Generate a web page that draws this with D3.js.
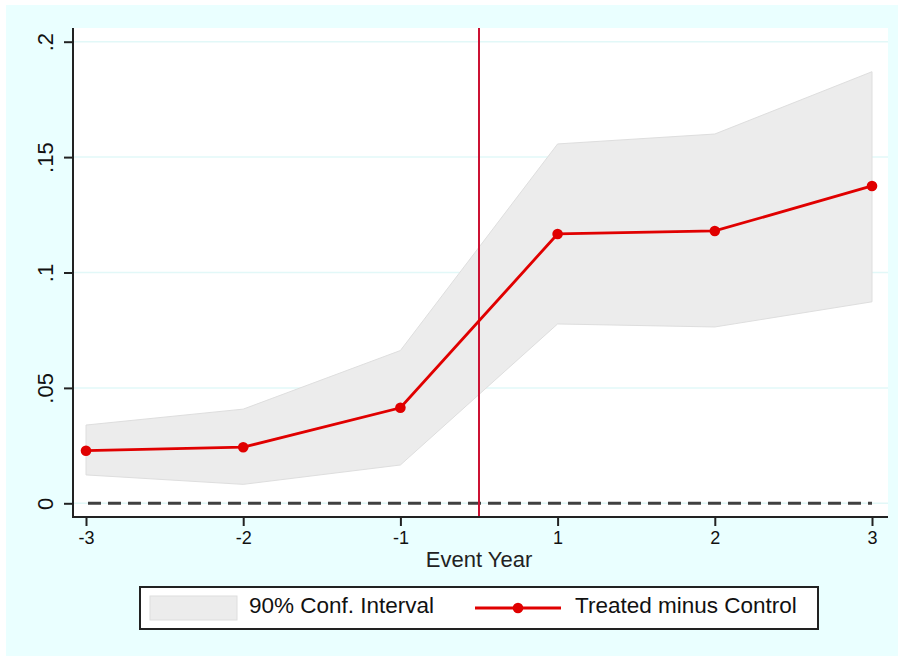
<!DOCTYPE html>
<html><head><meta charset="utf-8">
<script src="https://cdn.jsdelivr.net/npm/d3@7"></script>
<style>html,body{margin:0;padding:0;background:#fff;}svg{display:block;}</style>
</head><body>
<script>
const eventYears = ["-3","-2","-1","1","2","3"];
const estimate = [0.0228, 0.0243, 0.0414, 0.1167, 0.1180, 0.1375];
const ciUpper  = [0.0339, 0.0408, 0.0662, 0.1557, 0.1600, 0.1870];
const ciLower  = [0.0123, 0.0082, 0.0166, 0.0777, 0.0764, 0.0873];
const yTicks = [0, 0.05, 0.1, 0.15, 0.2];
const yTickLabels = ["0", ".05", ".1", ".15", ".2"];
const xLabel = "Event Year";
const legendLabels = ["90% Conf. Interval", "Treated minus Control"];

const W = 898, H = 656;
const svg = d3.select("body").append("svg").attr("width", W).attr("height", H);
const font = "'Liberation Sans', Arial, sans-serif";

svg.append("rect").attr("x", 0).attr("y", 0).attr("width", W).attr("height", H).attr("fill", "#ffffff");
svg.append("rect").attr("x", 6).attr("y", 5).attr("width", W - 6).attr("height", H - 5).attr("fill", "#eaffff");

const plot = {left: 73, right: 888, top: 28, bottom: 517};
svg.append("rect").attr("x", plot.left).attr("y", plot.top)
  .attr("width", plot.right - plot.left).attr("height", plot.bottom - plot.top).attr("fill", "#ffffff");

const x = d3.scalePoint().domain(eventYears).range([86, 872]);
const y = d3.scaleLinear().domain([0, 0.2]).range([503.3, 41.7]);

// gridlines
svg.append("g").selectAll("line").data(yTicks).join("line")
  .attr("x1", plot.left).attr("x2", plot.right)
  .attr("y1", d => y(d)).attr("y2", d => y(d))
  .attr("stroke", "#e2f8f8").attr("stroke-width", 1.5);

// CI area
const idx = d3.range(eventYears.length);
svg.append("path").datum(idx)
  .attr("d", d3.area().x(i => x(eventYears[i])).y0(i => y(ciLower[i])).y1(i => y(ciUpper[i])))
  .attr("fill", "#ececec").attr("stroke", "#dedede").attr("stroke-width", 1);

// zero dashed line
svg.append("line").attr("x1", x(eventYears[0]) + 2).attr("x2", x(eventYears[eventYears.length - 1]))
  .attr("y1", y(0)).attr("y2", y(0))
  .attr("stroke", "#404040").attr("stroke-width", 3).attr("stroke-dasharray", "13,7");

// vertical event line
const xEvent = (x("-1") + x("1")) / 2;
svg.append("line").attr("x1", xEvent).attr("x2", xEvent).attr("y1", plot.top).attr("y2", plot.bottom)
  .attr("stroke", "#cc1133").attr("stroke-width", 2);

// estimate line
svg.append("path").datum(idx)
  .attr("d", d3.line().x(i => x(eventYears[i])).y(i => y(estimate[i])))
  .attr("fill", "none").attr("stroke", "#e00000").attr("stroke-width", 2.8);
svg.append("g").selectAll("circle").data(idx).join("circle")
  .attr("cx", i => x(eventYears[i])).attr("cy", i => y(estimate[i])).attr("r", 5.3)
  .attr("fill", "#e00000");

// Y axis
const yAxis = d3.axisLeft(y).tickValues(yTicks).tickFormat((d, i) => yTickLabels[i]).tickSize(9).tickSizeOuter(0);
const gy = svg.append("g").attr("transform", `translate(${plot.left},0)`).call(yAxis);
gy.select(".domain").remove();
gy.append("line").attr("x1", 0).attr("x2", 0).attr("y1", plot.top).attr("y2", plot.bottom + 1).attr("stroke", "#222").attr("stroke-width", 2);
gy.selectAll(".tick line").attr("stroke", "#222").attr("stroke-width", 2);
gy.selectAll(".tick text")
  .attr("transform", "rotate(-90)")
  .attr("x", 0).attr("y", -20).attr("dy", 0)
  .attr("text-anchor", "middle")
  .attr("font-family", font).attr("font-size", 22).attr("fill", "#111");

// X axis
const xAxis = d3.axisBottom(x).tickSize(9).tickSizeOuter(0);
const gx = svg.append("g").attr("transform", `translate(0,${plot.bottom})`).call(xAxis);
gx.select(".domain").remove();
gx.append("line").attr("x1", plot.left).attr("x2", plot.right).attr("y1", 0).attr("y2", 0).attr("stroke", "#222").attr("stroke-width", 2);
gx.selectAll(".tick line").attr("stroke", "#222").attr("stroke-width", 2);
gx.selectAll(".tick text").attr("y", 27).attr("dy", 0)
  .attr("font-family", font).attr("font-size", 18).attr("fill", "#111");

svg.append("text").attr("x", xEvent).attr("y", 567).attr("text-anchor", "middle")
  .attr("font-family", font).attr("font-size", 22).attr("fill", "#222").text(xLabel);

// Legend
const lg = svg.append("g");
lg.append("rect").attr("x", 140).attr("y", 587).attr("width", 678).attr("height", 42)
  .attr("fill", "#ffffff").attr("stroke", "#222").attr("stroke-width", 2);
lg.append("rect").attr("x", 150).attr("y", 596).attr("width", 87).attr("height", 24)
  .attr("fill", "#ececec").attr("stroke", "#dedede").attr("stroke-width", 1);
lg.append("text").attr("x", 249).attr("y", 613).attr("font-family", font).attr("font-size", 22.5).attr("fill", "#111").text(legendLabels[0]);
lg.append("line").attr("x1", 475).attr("x2", 561).attr("y1", 608).attr("y2", 608).attr("stroke", "#e00000").attr("stroke-width", 2.8);
lg.append("circle").attr("cx", 518).attr("cy", 608).attr("r", 5.3).attr("fill", "#e00000");
lg.append("text").attr("x", 575).attr("y", 613).attr("font-family", font).attr("font-size", 22.5).attr("fill", "#111").text(legendLabels[1]);
</script>
</body></html>
